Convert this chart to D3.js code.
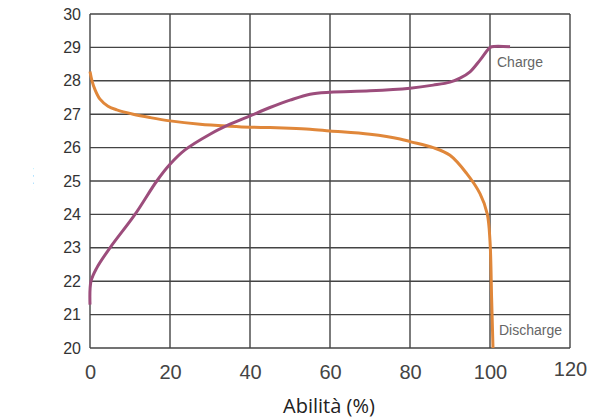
<!DOCTYPE html>
<html>
<head>
<meta charset="utf-8">
<script src="https://cdn.jsdelivr.net/npm/d3@7"></script>
<style>
  body { margin: 0; background: #fff; }
  svg { display: block; }
</style>
</head>
<body>
<script>
// Data
var xTicks = [0, 20, 40, 60, 80, 100, 120];
var yTicks = [20, 21, 22, 23, 24, 25, 26, 27, 28, 29, 30];

var chargeX = [0, 0.25, 1.7, 5, 11.25, 16.7, 20, 23.75, 30, 35, 40, 45, 50, 55, 60, 70, 80, 85.8, 90, 92.5, 95, 97.5, 99.6, 100.4, 105];
var chargeY = [21.3, 22.0, 22.4, 23.0, 24.0, 25.0, 25.5, 25.93, 26.4, 26.7, 26.95, 27.2, 27.42, 27.6, 27.66, 27.7, 27.78, 27.87, 27.96, 28.08, 28.27, 28.62, 28.95, 29.02, 29.02];

var dischargeX = [0, 0.5, 1.2, 2.5, 4.5, 6.7, 10.8, 15, 20, 27.5, 35, 40, 45, 50, 55, 60, 70, 77.5, 80, 85.8, 90, 94.2, 97.5, 99.3, 100, 100.4, 100.75];
var dischargeY = [28.28, 28.0, 27.75, 27.45, 27.24, 27.13, 27.0, 26.9, 26.8, 26.7, 26.64, 26.61, 26.6, 26.58, 26.55, 26.5, 26.4, 26.26, 26.18, 26.0, 25.77, 25.22, 24.62, 24.02, 23.2, 21.5, 20.0];

window.onload = function(){
    var width = 597, height = 418;
    var margin = {left: 90, right: 27, top: 14, bottom: 70};

    var svg = d3.select('body')
        .append('svg')
        .attr('width', width)
        .attr('height', height);

    var xScale = d3.scaleLinear()
        .domain([0, 120])
        .range([margin.left, width - margin.right]);

    var yScale = d3.scaleLinear()
        .domain([20, 30])
        .range([height - margin.bottom, margin.top]);

    // grid lines
    var grid = svg.append('g').attr('class', 'grid');
    grid.selectAll('.hline')
        .data(yTicks)
        .enter()
        .append('line')
        .attr('x1', xScale(0))
        .attr('x2', xScale(120))
        .attr('y1', function(d){ return yScale(d); })
        .attr('y2', function(d){ return yScale(d); })
        .style('stroke', '#444')
        .style('stroke-width', 1.4);

    grid.selectAll('.vline')
        .data(xTicks)
        .enter()
        .append('line')
        .attr('x1', function(d){ return xScale(d); })
        .attr('x2', function(d){ return xScale(d); })
        .attr('y1', yScale(20))
        .attr('y2', yScale(30))
        .style('stroke', '#444')
        .style('stroke-width', 1.4);

    // y axis labels
    var yAxis = d3.axisLeft(yScale)
        .tickValues(yTicks)
        .tickSize(0)
        .tickPadding(9);

    svg.append('g')
        .attr('transform', 'translate(' + margin.left + ',0)')
        .call(yAxis)
        .call(function(g){ g.select('.domain').remove(); })
        .selectAll('text')
        .style('font-family', '"Liberation Sans", Arial, sans-serif')
        .style('font-size', '16px')
        .style('fill', '#333');

    // x axis labels
    var xAxis = d3.axisBottom(xScale)
        .tickValues(xTicks)
        .tickSize(0)
        .tickPadding(17);

    svg.append('g')
        .attr('transform', 'translate(0,' + yScale(20) + ')')
        .call(xAxis)
        .call(function(g){ g.select('.domain').remove(); })
        .selectAll('text')
        .attr('dy', function(d){ return d === 120 ? '0.55em' : '0.71em'; })
        .style('font-family', '"Liberation Sans", Arial, sans-serif')
        .style('font-size', '20px')
        .style('fill', '#444');

    // curves
    var line = d3.line()
        .x(function(d){ return xScale(d[0]); })
        .y(function(d){ return yScale(d[1]); })
        .curve(d3.curveCatmullRom.alpha(0.5));

    var charge = d3.zip(chargeX, chargeY);
    var discharge = d3.zip(dischargeX, dischargeY);

    svg.append('path')
        .datum(discharge)
        .attr('d', line)
        .style('fill', 'none')
        .style('stroke', '#e0873a')
        .style('stroke-width', 3);

    svg.append('path')
        .datum(charge)
        .attr('d', line)
        .style('fill', 'none')
        .style('stroke', '#9c4d7c')
        .style('stroke-width', 3);

    // curve labels
    svg.append('text')
        .attr('x', xScale(101.75))
        .attr('y', yScale(28.5) + 3)
        .text('Charge')
        .style('font-family', '"Liberation Sans", Arial, sans-serif')
        .style('font-size', '14px')
        .style('fill', '#666');

    svg.append('text')
        .attr('x', xScale(102.25))
        .attr('y', yScale(20.4))
        .text('Discharge')
        .style('font-family', '"Liberation Sans", Arial, sans-serif')
        .style('font-size', '14px')
        .style('fill', '#666');

    // x axis title
    svg.append('text')
        .attr('text-anchor', 'middle')
        .attr('x', 329)
        .attr('y', 413)
        .text('Abilità (%)')
        .style('font-family', '"Open Sans", sans-serif')
        .style('font-size', '20px')
        .style('fill', '#222');

    // y axis title, mostly cut off in the original
    svg.append('clipPath')
        .attr('id', 'ylabClip')
        .append('rect')
        .attr('x', 0).attr('y', 0)
        .attr('width', 22).attr('height', height);

    svg.append('text')
        .attr('clip-path', 'url(#ylabClip)')
        .attr('text-anchor', 'middle')
        .attr('transform', 'translate(33,190) rotate(-90)')
        .text('Tensione (V)')
        .style('font-family', '"Open Sans", sans-serif')
        .style('font-size', '20px')
        .style('fill', '#222');
};
</script>
</body>
</html>
